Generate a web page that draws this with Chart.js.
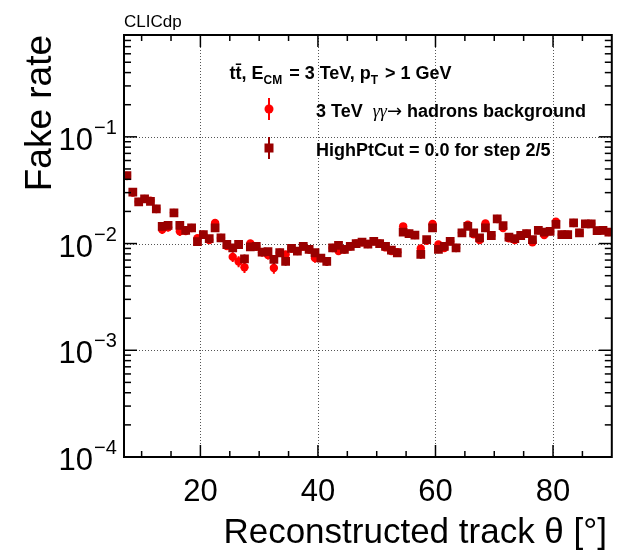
<!DOCTYPE html>
<html><head><meta charset="utf-8">
<script src="https://cdn.jsdelivr.net/npm/chart.js@4/dist/chart.umd.min.js"></script>
<style>html,body{margin:0;padding:0;background:#fff;}canvas{display:block;}</style>
</head><body>
<canvas id="c" width="618" height="552"></canvas>
<script>
// ---- data ----
const thetaBins = [7.5,8.5,9.5,10.5,11.5,12.5,13.5,14.5,15.5,16.5,17.5,18.5,19.5,20.5,21.5,22.5,23.5,24.5,25.5,26.5,27.5,28.5,29.5,30.5,31.5,32.5,33.5,34.5,35.5,36.5,37.5,38.5,39.5,40.5,41.5,42.5,43.5,44.5,45.5,46.5,47.5,48.5,49.5,50.5,51.5,52.5,53.5,54.5,55.5,56.5,57.5,58.5,59.5,60.5,61.5,62.5,63.5,64.5,65.5,66.5,67.5,68.5,69.5,70.5,71.5,72.5,73.5,74.5,75.5,76.5,77.5,78.5,79.5,80.5,81.5,82.5,83.5,84.5,85.5,86.5,87.5,88.5,89.5];
const fakeRateBackground = [0.0430,0.0300,0.0246,0.0262,0.0252,0.0211,0.0135,0.0142,0.0194,0.0130,0.0131,0.0140,0.0112,0.0121,0.0108,0.0156,0.0113,0.0095,0.0075,0.0068,0.0060,0.0100,0.0094,0.0083,0.0078,0.0059,0.0082,0.0079,0.0090,0.0085,0.0094,0.0088,0.0073,0.0073,0.0068,0.0091,0.0085,0.0088,0.0094,0.0100,0.0103,0.0099,0.0105,0.0100,0.0092,0.0085,0.0083,0.0145,0.0124,0.0120,0.0090,0.0106,0.0153,0.0098,0.0091,0.0105,0.0091,0.0126,0.0150,0.0122,0.0108,0.0154,0.0119,0.0170,0.0140,0.0112,0.0108,0.0119,0.0124,0.0103,0.0133,0.0120,0.0130,0.0160,0.0121,0.0121,0.0156,0.0126,0.0153,0.0153,0.0132,0.0133,0.0128];
const fakeRateHighPtCut = [0.0434,0.0303,0.0246,0.0262,0.0249,0.0211,0.0145,0.0148,0.0194,0.0148,0.0133,0.0140,0.0104,0.0121,0.0111,0.0140,0.0113,0.0098,0.0091,0.0098,0.0072,0.0093,0.0094,0.0083,0.0084,0.0071,0.0082,0.0068,0.0090,0.0085,0.0094,0.0088,0.0082,0.0073,0.0068,0.0091,0.0096,0.0088,0.0094,0.0100,0.0103,0.0099,0.0105,0.0100,0.0094,0.0087,0.0082,0.0128,0.0124,0.0120,0.0079,0.0109,0.0140,0.0088,0.0094,0.0105,0.0091,0.0126,0.0145,0.0126,0.0113,0.0140,0.0119,0.0170,0.0147,0.0115,0.0111,0.0119,0.0124,0.0109,0.0133,0.0128,0.0130,0.0151,0.0121,0.0121,0.0156,0.0126,0.0153,0.0153,0.0132,0.0133,0.0128];
const statErrors = [0.0030,0.0022,0.0018,0.0019,0.0018,0.0016,0.0012,0.0012,0.0015,0.0012,0.0011,0.0011,0.0009,0.0010,0.0009,0.0011,0.0009,0.0008,0.0008,0.0008,0.0007,0.0008,0.0008,0.0007,0.0007,0.0007,0.0007,0.0006,0.0007,0.0007,0.0007,0.0007,0.0007,0.0006,0.0006,0.0007,0.0007,0.0007,0.0007,0.0007,0.0008,0.0007,0.0008,0.0007,0.0007,0.0007,0.0007,0.0009,0.0009,0.0009,0.0007,0.0008,0.0010,0.0007,0.0007,0.0008,0.0007,0.0009,0.0010,0.0009,0.0008,0.0010,0.0009,0.0011,0.0010,0.0008,0.0008,0.0009,0.0009,0.0008,0.0009,0.0009,0.0009,0.0010,0.0009,0.0009,0.0010,0.0009,0.0010,0.0010,0.0009,0.0009,0.0009];
const xMajorTicks = [20,40,60,80];
const yMajorTicks = [1e-4,1e-3,1e-2,1e-1];
const yTickExponents = ['\u22124','\u22123','\u22122','\u22121'];
const seriesLabels = ['3 TeV', 'HighPtCut = 0.0 for step 2/5'];
const X_MIN = 7, X_MAX = 90, Y_MIN = 1e-4, Y_MAX = 0.9;

const FONT = '"Liberation Sans", Arial, Helvetica, sans-serif';
const RED = '#ff0000', DARK = '#990000';

function line(ctx,x1,y1,x2,y2){ctx.beginPath();ctx.moveTo(x1,y1);ctx.lineTo(x2,y2);ctx.stroke();}
function txt(ctx,s,x,y,font,align,color){ctx.font=font;ctx.textAlign=align||'left';ctx.textBaseline='alphabetic';ctx.fillStyle=color||'#000';ctx.fillText(s,x,y);return ctx.measureText(s).width;}

const rootStyle = {
  id:'rootStyle',
  beforeDatasetsDraw(chart){
    const {ctx, chartArea:a, scales:{x,y}} = chart;
    ctx.save();
    ctx.strokeStyle='#555'; ctx.lineWidth=1; ctx.setLineDash([1,2]);
    xMajorTicks.forEach(v=>{const px=Math.round(x.getPixelForValue(v))+0.5; line(ctx,px,a.top,px,a.bottom);});
    yMajorTicks.forEach(v=>{ if(v<=Y_MIN) return; const py=Math.round(y.getPixelForValue(v))+0.5; line(ctx,a.left,py,a.right,py);});
    ctx.restore();
  },
  beforeDatasetDraw(chart,args){
    const {ctx, scales:{y}} = chart;
    const ds = chart.data.datasets[args.index];
    const meta = args.meta;
    ctx.save();
    ctx.strokeStyle = ds.backgroundColor; ctx.lineWidth = 2;
    ctx.beginPath();
    ctx.rect(chart.chartArea.left, chart.chartArea.top, chart.chartArea.width, chart.chartArea.height);
    ctx.clip();
    meta.data.forEach((pt,i)=>{
      const v = ds.data[i].y, e = ds.errors[i];
      line(ctx, pt.x, y.getPixelForValue(v+e), pt.x, y.getPixelForValue(Math.max(v-e,Y_MIN)));
    });
    ctx.restore();
  },
  afterDatasetsDraw(chart){
    const {ctx, chartArea:a, scales:{x,y}} = chart;
    ctx.save();
    // ticks (inside, all four sides)
    ctx.strokeStyle='#000'; ctx.lineWidth=1.5;
    for(let e=-4;e<=-1;e++){
      for(let k=1;k<=9;k++){
        const v=k*Math.pow(10,e); if(v<Y_MIN-1e-12||v>Y_MAX) continue;
        const py=y.getPixelForValue(v); const len=(k===1)?13:7;
        line(ctx,a.left,py,a.left+len,py); line(ctx,a.right,py,a.right-len,py);
      }
    }
    for(let v=10; v<X_MAX; v+=5){
      const px=x.getPixelForValue(v); const len=(v%20===0)?12:6;
      line(ctx,px,a.bottom,px,a.bottom-len); line(ctx,px,a.top,px,a.top+len);
    }
    // frame
    ctx.lineWidth=2; ctx.strokeRect(a.left,a.top,a.width,a.height);
    // x tick labels
    xMajorTicks.forEach(v=>txt(ctx,String(v),x.getPixelForValue(v),501,'31px '+FONT,'center'));
    // y tick labels 10^n
    yMajorTicks.forEach((v,i)=>{
      const py=y.getPixelForValue(v);
      txt(ctx,'10',93,py+13,'31px '+FONT,'right');
      txt(ctx,yTickExponents[i],94,py-3,'20px '+FONT,'left');
    });
    // axis titles
    txt(ctx,'Reconstructed track \u03b8 [\u00b0]',607,543,'35px '+FONT,'right');
    ctx.save(); ctx.translate(51,35); ctx.rotate(-Math.PI/2);
    txt(ctx,'Fake rate',0,0,'37px '+FONT,'right'); ctx.restore();
    // CLICdp
    txt(ctx,'CLICdp',124,27,'17px '+FONT,'left');
    // legend header
    const B='bold 18px '+FONT, S='bold 12px '+FONT;
    let lx=229.5;
    lx+=txt(ctx,'tt\u0304, E',lx,79,B);
    lx+=txt(ctx,'CM',lx,84,S)+2;
    lx+=txt(ctx,' = 3 TeV, p',lx,79,B);
    lx+=txt(ctx,'T',lx,84,S)+2;
    txt(ctx,' > 1 GeV',lx,79,B);
    // legend entries
    ctx.lineWidth=2;
    ctx.strokeStyle=RED; line(ctx,269,98,269,120);
    ctx.fillStyle=RED; ctx.beginPath(); ctx.arc(269,109,4.5,0,Math.PI*2); ctx.fill();
    ctx.strokeStyle=DARK; line(ctx,269,137,269,159);
    ctx.fillStyle=DARK; ctx.fillRect(264.5,143.5,9,9);
    let ex=316;
    ex+=txt(ctx,seriesLabels[0]+'  ',ex,117,B);
    ex+=txt(ctx,'\u03b3\u03b3',ex,117,'italic 18px "Liberation Serif", serif');
    ex+=txt(ctx,'\u2192',ex,117,'18px "DejaVu Sans", sans-serif');
    txt(ctx,' hadrons background',ex,117,B);
    txt(ctx,seriesLabels[1],316,156,B);
    ctx.restore();
  }
};

const mk = (vals)=>thetaBins.map((t,i)=>({x:t,y:vals[i]}));

new Chart(document.getElementById('c'),{
  type:'scatter',
  data:{datasets:[
    {label:seriesLabels[1], data:mk(fakeRateHighPtCut), errors:statErrors, pointStyle:'rect', pointRadius:6.2, backgroundColor:DARK, borderWidth:0, order:0},
    {label:seriesLabels[0], data:mk(fakeRateBackground), errors:statErrors, pointStyle:'circle', pointRadius:4.2, backgroundColor:RED, borderWidth:0, order:1}
  ]},
  options:{
    responsive:false, animation:false, devicePixelRatio:1, events:[],
    layout:{padding:{left:124,right:5,top:35,bottom:95}},
    scales:{
      x:{type:'linear',min:X_MIN,max:X_MAX,display:false},
      y:{type:'logarithmic',min:Y_MIN,max:Y_MAX,display:false}
    },
    plugins:{legend:{display:false},tooltip:{enabled:false}}
  },
  plugins:[rootStyle]
});
</script>
</body></html>
